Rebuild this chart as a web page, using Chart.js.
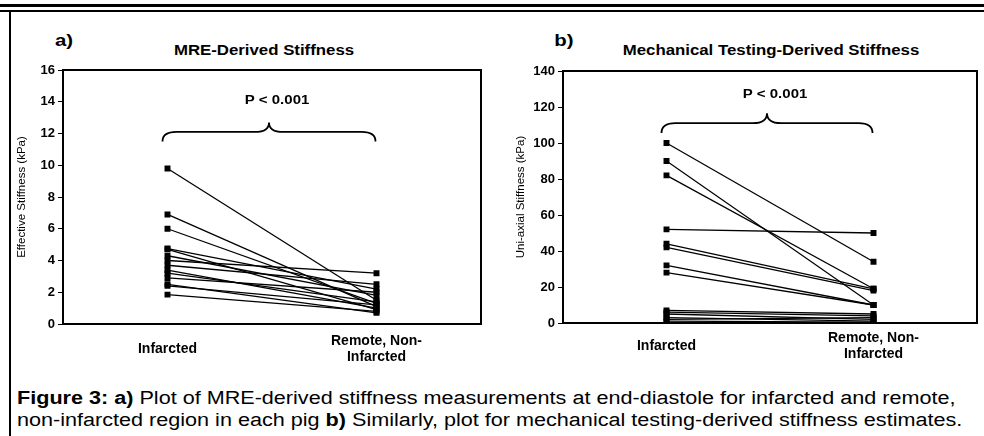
<!DOCTYPE html>
<html>
<head>
<meta charset="utf-8">
<script src="https://cdn.jsdelivr.net/npm/chart.js@4.4.0/dist/chart.umd.min.js"></script>
<style>
  html, body { margin: 0; padding: 0; background: #fff; }
  body { width: 984px; height: 436px; position: relative; overflow: hidden;
         font-family: "Liberation Sans", Arial, sans-serif; color: #000; }
  .rule { position: absolute; left: 0; width: 984px; background: #000; }
  #frameLeft { position: absolute; left: 9px; top: 10px; width: 2px; height: 426px; background: #000; }
  canvas { position: absolute; top: 0; }
  .lbl { position: absolute; font-weight: bold; white-space: nowrap; line-height: 1;
         transform: translate(-50%, -50%) scaleX(1.2); }
  #caption { position: absolute; left: 17px; top: 387px; font-size: 18px; line-height: 22px; white-space: nowrap;
             transform: scaleX(1.2); transform-origin: 0 0; }
</style>
</head>
<body>
<div class="rule" style="top:4px;height:3px"></div>
<div class="rule" style="top:10px;height:2px"></div>
<div id="frameLeft"></div>

<div class="lbl" style="left:64px;top:40px;font-size:17px">a)</div>
<div class="lbl" style="left:264px;top:50px;font-size:14px">MRE-Derived Stiffness</div>
<div class="lbl" style="left:564px;top:40px;font-size:17px">b)</div>
<div class="lbl" style="left:771px;top:50px;font-size:14px">Mechanical Testing-Derived Stiffness</div>

<canvas id="chartMRE" width="492" height="372" style="left:0"></canvas>
<canvas id="chartMech" width="492" height="372" style="left:492px"></canvas>

<div id="caption"><b>Figure 3: a)</b> Plot of MRE-derived stiffness measurements at end-diastole for infarcted and remote,<br>non-infarcted region in each pig <b>b)</b> Similarly, plot for mechanical testing-derived stiffness estimates.</div>

<script>
// 범주 (x축)
const categories = ['Infarcted', ['Remote, Non-', 'Infarcted']];

// MRE 유래 강성 (kPa) - 돼지별 경색/원격 부위
const mreInfarcted = [9.8, 6.9, 6.0, 4.75, 4.7, 4.3, 4.0, 3.7, 3.4, 3.2, 2.9, 2.5, 2.4, 1.85];
const mreRemote    = [1.5, 1.1, 1.3, 2.2, 0.9, 1.8, 3.2, 2.5, 1.0, 1.4, 2.0, 0.7, 1.2, 0.8];

// 기계적 시험 유래 강성 (kPa)
const mechInfarcted = [100, 90, 82, 52, 44, 42, 32, 28, 7, 6, 5, 3, 2, 1];
const mechRemote    = [34, 10, 19, 50, 19, 18, 10, 10, 5, 4, 2, 1, 3, 0.5];

// y축 눈금
const mreTicks  = [0, 2, 4, 6, 8, 10, 12, 14, 16];
const mechTicks = [0, 20, 40, 60, 80, 100, 120, 140];

const pText = 'P < 0.001';

Chart.defaults.font.family = "'Liberation Sans', Arial, sans-serif";
Chart.defaults.color = '#000';

// 플롯 테두리 + 중괄호 + P값
const framePlugin = {
  id: 'frame',
  afterDraw(chart, args, opts) {
    const { ctx, chartArea: a, scales: { x, y } } = chart;
    ctx.save();
    ctx.strokeStyle = '#000';
    ctx.lineWidth = 2;
    ctx.strokeRect(a.left, a.top, a.width, a.height);

    const x0 = x.getPixelForValue(0) - 5;
    const x1 = x.getPixelForValue(1) - 1;
    const xm = (x0 + x1) / 2;
    const yEnd = y.getPixelForValue(opts.braceEnd);
    const yMid = y.getPixelForValue(opts.braceMid);
    const yTip = y.getPixelForValue(opts.braceTip);
    const r = 14;
    ctx.lineWidth = 1.8;
    ctx.beginPath();
    ctx.moveTo(x0, yEnd);
    ctx.quadraticCurveTo(x0, yMid, x0 + r, yMid);
    ctx.lineTo(xm - r, yMid);
    ctx.quadraticCurveTo(xm, yMid, xm, yTip);
    ctx.quadraticCurveTo(xm, yMid, xm + r, yMid);
    ctx.lineTo(x1 - r, yMid);
    ctx.quadraticCurveTo(x1, yMid, x1, yEnd);
    ctx.stroke();

    // P값 (원본처럼 가로로 약간 늘림)
    ctx.translate(xm + 8, y.getPixelForValue(opts.pLevel));
    ctx.scale(1.2, 1);
    ctx.font = "bold 12.5px 'Liberation Sans', Arial, sans-serif";
    ctx.fillStyle = '#000';
    ctx.textAlign = 'center';
    ctx.textBaseline = 'middle';
    ctx.fillText(pText, 0, 0);
    ctx.restore();
  }
};

const pigDatasets = (inf, rem) => inf.map((v, i) => ({
  data: [v, rem[i]],
  borderColor: '#000',
  borderWidth: 1.3,
  pointStyle: 'rect',
  pointRadius: 4.2,
  pointHoverRadius: 4.2,
  pointBackgroundColor: '#000',
  pointBorderColor: '#000',
  pointBorderWidth: 0,
  tension: 0
}));

const makeChart = (id, inf, rem, ticks, cfg) => new Chart(document.getElementById(id), {
  type: 'line',
  data: { labels: categories, datasets: pigDatasets(inf, rem) },
  options: {
    responsive: false,
    animation: false,
    devicePixelRatio: 1,
    layout: { padding: { top: cfg.top, right: cfg.right, left: 0, bottom: 0 } },
    plugins: {
      legend: { display: false },
      tooltip: { enabled: false },
      frame: cfg.brace
    },
    scales: {
      x: {
        offset: true,
        grid: { display: false, drawTicks: false },
        border: { display: false },
        ticks: {
          crossAlign: 'center',
          padding: cfg.xPad,
          maxRotation: 0,
          autoSkip: false,
          font: { size: 14, weight: 'bold', lineHeight: 1.143 }
        },
        afterFit(scale) { scale.height = cfg.xHeight; }
      },
      y: {
        min: ticks[0],
        max: ticks[ticks.length - 1],
        afterBuildTicks(scale) { scale.ticks = ticks.map(v => ({ value: v })); },
        grid: { drawOnChartArea: false, drawTicks: true, tickLength: 5, color: '#000', lineWidth: 1 },
        border: { display: false },
        ticks: { padding: 3, font: { size: 13, weight: 'bold' } },
        title: {
          display: true,
          text: cfg.yTitle,
          padding: { top: cfg.titlePad, bottom: 0 },
          font: { size: 11.5 }
        },
        afterFit(scale) { scale.width = cfg.yWidth; }
      }
    }
  },
  plugins: [framePlugin]
});

makeChart('chartMRE', mreInfarcted, mreRemote, mreTicks, {
  top: 70, right: 11, xHeight: 48, xPad: 17, yWidth: 63, titlePad: 15,
  yTitle: 'Effective Stiffness (kPa)',
  brace: { braceEnd: 11.5, braceMid: 12.1, braceTip: 12.7, pLevel: 14.1 }
});

makeChart('chartMech', mechInfarcted, mechRemote, mechTicks, {
  top: 71, right: 7, xHeight: 49, xPad: 15, yWidth: 71, titlePad: 22,
  yTitle: 'Uni-axial Stiffness (kPa)',
  brace: { braceEnd: 105.5, braceMid: 111, braceTip: 116.5, pLevel: 127 }
});
</script>
</body>
</html>
